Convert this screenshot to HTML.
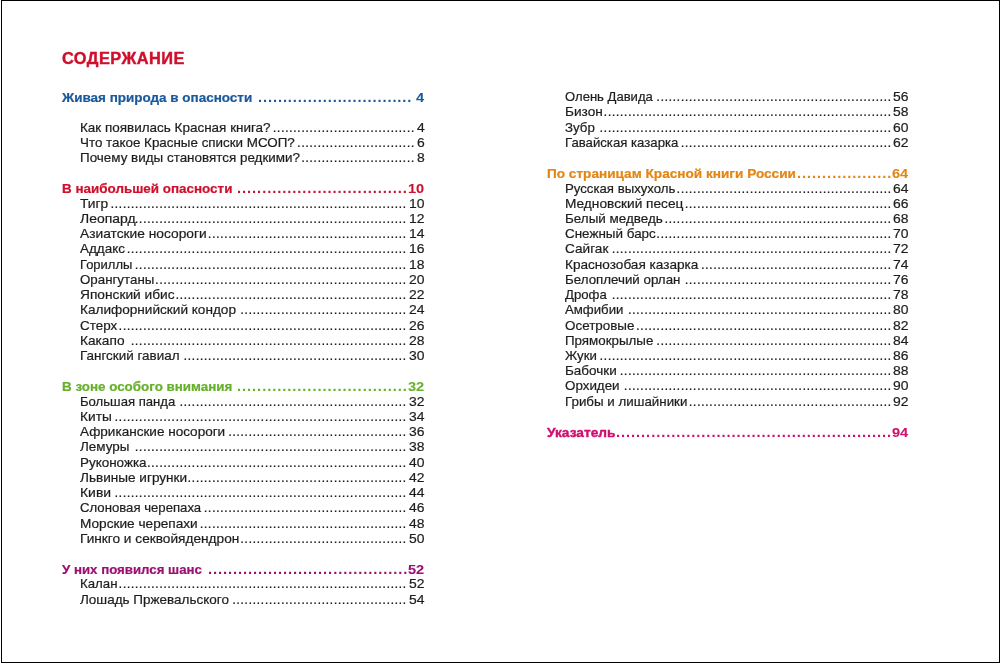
<!DOCTYPE html>
<html lang="ru">
<head>
<meta charset="utf-8">
<title>Содержание</title>
<style>
html,body{margin:0;padding:0;background:#fff;}
body{width:1000px;height:663px;position:relative;overflow:hidden;font-family:"Liberation Sans",Arial,Helvetica,sans-serif;color:#1d1d1b;}
.frame{position:absolute;left:1px;top:0;width:997px;height:661px;border:1px solid #000;}
.page{position:absolute;left:0;top:0;width:1000px;height:663px;will-change:transform;}
.t,.l,.n,.d{position:absolute;white-space:nowrap;line-height:1;margin:0;padding:0;transform-origin:0 0;}
h1.t{font-weight:bold;font-size:15.8px;letter-spacing:0.45px;color:#cf0f2b;-webkit-text-stroke:0.4px #cf0f2b;}
.i{font-weight:normal;font-size:12.4px;-webkit-text-stroke:0.2px #1d1d1b;}
.h{font-weight:bold;font-size:12.7px;-webkit-text-stroke-width:0.22px;}
.d.h{-webkit-text-stroke-width:0;}
.d.i{-webkit-text-stroke-width:0.18px;}
</style>
</head>
<body>
<div class="frame"></div>
<div class="page">
<h1 class="t" style="left:61.80px;top:51.00px;transform:scaleX(1.0358)">СОДЕРЖАНИЕ</h1>
<div class="l h" style="left:62.30px;top:92.00px;transform:scaleX(1.0612);color:#1a599c;-webkit-text-stroke-color:#1a599c">Живая природа в опасности</div>
<div class="n h" style="left:415.98px;top:91.00px;font-size:13.4px;-webkit-text-stroke-width:0.08px;transform:scaleX(1.0900);color:#1a599c;-webkit-text-stroke-color:#1a599c">4</div>
<div class="d h" style="left:257.65px;top:90.00px;font-size:14.0px;letter-spacing:0.833px;transform:scaleX(1.0540);color:#1a599c;-webkit-text-stroke-color:#1a599c">...............................</div>
<div class="l i" style="left:80.00px;top:122.00px;transform:scaleX(1.0873)">Как появилась Красная книга?</div>
<div class="n i" style="left:417.06px;top:121.00px;font-size:13.0px;transform:scaleX(1.0700)">4</div>
<div class="d i" style="left:78px;top:122.00px;letter-spacing:0.332px;transform:scaleX(1.0750);clip-path:inset(-2px 0.17px -2px 181.25px)">...................................................................................</div>
<div class="l i" style="left:80.00px;top:137.00px;transform:scaleX(1.0802)">Что такое Красные списки МСОП?</div>
<div class="n i" style="left:417.06px;top:136.00px;font-size:13.0px;transform:scaleX(1.0700)">6</div>
<div class="d i" style="left:78px;top:137.00px;letter-spacing:0.332px;transform:scaleX(1.0750);clip-path:inset(-2px 0.17px -2px 203.93px)">...................................................................................</div>
<div class="l i" style="left:80.00px;top:152.00px;transform:scaleX(1.0834)">Почему виды становятся редкими?</div>
<div class="n i" style="left:417.06px;top:151.00px;font-size:13.0px;transform:scaleX(1.0700)">8</div>
<div class="d i" style="left:78px;top:152.00px;letter-spacing:0.332px;transform:scaleX(1.0750);clip-path:inset(-2px 0.17px -2px 207.71px)">...................................................................................</div>
<div class="l h" style="left:62.30px;top:183.00px;transform:scaleX(1.0575);color:#cf0f2b;-webkit-text-stroke-color:#cf0f2b">В наибольшей опасности</div>
<div class="n h" style="left:407.85px;top:182.00px;font-size:13.4px;-webkit-text-stroke-width:0.08px;transform:scaleX(1.0900);color:#cf0f2b;-webkit-text-stroke-color:#cf0f2b">10</div>
<div class="d h" style="left:237.25px;top:181.00px;font-size:14.0px;letter-spacing:0.878px;transform:scaleX(1.0540);color:#cf0f2b;-webkit-text-stroke-color:#cf0f2b">..................................</div>
<div class="l i" style="left:80.00px;top:198.00px;transform:scaleX(1.1081)">Тигр</div>
<div class="n i" style="left:409.32px;top:197.00px;font-size:13.0px;transform:scaleX(1.0700)">10</div>
<div class="d i" style="left:78px;top:198.00px;letter-spacing:0.332px;transform:scaleX(1.0750);clip-path:inset(-2px 7.73px -2px 30.07px)">...................................................................................</div>
<div class="l i" style="left:80.00px;top:213.00px;transform:scaleX(1.1264)">Леопард</div>
<div class="n i" style="left:409.32px;top:212.00px;font-size:13.0px;transform:scaleX(1.0700)">12</div>
<div class="d i" style="left:78px;top:213.00px;letter-spacing:0.332px;transform:scaleX(1.0750);clip-path:inset(-2px 7.73px -2px 52.75px)">...................................................................................</div>
<div class="l i" style="left:80.00px;top:228.00px;transform:scaleX(1.1106)">Азиатские носороги</div>
<div class="n i" style="left:409.32px;top:227.00px;font-size:13.0px;transform:scaleX(1.0700)">14</div>
<div class="d i" style="left:78px;top:228.00px;letter-spacing:0.332px;transform:scaleX(1.0750);clip-path:inset(-2px 7.73px -2px 120.78px)">...................................................................................</div>
<div class="l i" style="left:80.00px;top:243.00px;transform:scaleX(1.0876)">Аддакс</div>
<div class="n i" style="left:409.32px;top:242.00px;font-size:13.0px;transform:scaleX(1.0700)">16</div>
<div class="d i" style="left:78px;top:243.00px;letter-spacing:0.332px;transform:scaleX(1.0750);clip-path:inset(-2px 7.73px -2px 45.19px)">...................................................................................</div>
<div class="l i" style="left:80.00px;top:259.00px;transform:scaleX(1.0470)">Гориллы</div>
<div class="n i" style="left:409.32px;top:258.00px;font-size:13.0px;transform:scaleX(1.0700)">18</div>
<div class="d i" style="left:78px;top:259.00px;letter-spacing:0.332px;transform:scaleX(1.0750);clip-path:inset(-2px 7.73px -2px 52.75px)">...................................................................................</div>
<div class="l i" style="left:80.00px;top:274.00px;transform:scaleX(1.0744)">Орангутаны</div>
<div class="n i" style="left:409.32px;top:273.00px;font-size:13.0px;transform:scaleX(1.0700)">20</div>
<div class="d i" style="left:78px;top:274.00px;letter-spacing:0.332px;transform:scaleX(1.0750);clip-path:inset(-2px 7.73px -2px 71.64px)">...................................................................................</div>
<div class="l i" style="left:80.00px;top:289.00px;transform:scaleX(1.1072)">Японский ибис</div>
<div class="n i" style="left:409.32px;top:288.00px;font-size:13.0px;transform:scaleX(1.0700)">22</div>
<div class="d i" style="left:78px;top:289.00px;letter-spacing:0.332px;transform:scaleX(1.0750);clip-path:inset(-2px 7.73px -2px 90.54px)">...................................................................................</div>
<div class="l i" style="left:80.00px;top:304.00px;transform:scaleX(1.0975)">Калифорнийский кондор</div>
<div class="n i" style="left:409.32px;top:303.00px;font-size:13.0px;transform:scaleX(1.0700)">24</div>
<div class="d i" style="left:78px;top:304.00px;letter-spacing:0.332px;transform:scaleX(1.0750);clip-path:inset(-2px 7.73px -2px 151.02px)">...................................................................................</div>
<div class="l i" style="left:80.00px;top:320.00px;transform:scaleX(1.0837)">Стерх</div>
<div class="n i" style="left:409.32px;top:319.00px;font-size:13.0px;transform:scaleX(1.0700)">26</div>
<div class="d i" style="left:78px;top:320.00px;letter-spacing:0.332px;transform:scaleX(1.0750);clip-path:inset(-2px 7.73px -2px 37.63px)">...................................................................................</div>
<div class="l i" style="left:80.00px;top:335.00px;transform:scaleX(1.1043)">Какапо</div>
<div class="n i" style="left:409.32px;top:334.00px;font-size:13.0px;transform:scaleX(1.0700)">28</div>
<div class="d i" style="left:78px;top:335.00px;letter-spacing:0.332px;transform:scaleX(1.0750);clip-path:inset(-2px 7.73px -2px 48.97px)">...................................................................................</div>
<div class="l i" style="left:80.00px;top:350.00px;transform:scaleX(1.0854)">Гангский гавиал</div>
<div class="n i" style="left:409.32px;top:349.00px;font-size:13.0px;transform:scaleX(1.0700)">30</div>
<div class="d i" style="left:78px;top:350.00px;letter-spacing:0.332px;transform:scaleX(1.0750);clip-path:inset(-2px 7.73px -2px 98.10px)">...................................................................................</div>
<div class="l h" style="left:62.30px;top:381.00px;transform:scaleX(1.0554);color:#66b02a;-webkit-text-stroke-color:#66b02a">В зоне особого внимания</div>
<div class="n h" style="left:407.85px;top:380.00px;font-size:13.4px;-webkit-text-stroke-width:0.08px;transform:scaleX(1.0900);color:#66b02a;-webkit-text-stroke-color:#66b02a">32</div>
<div class="d h" style="left:237.25px;top:379.00px;font-size:14.0px;letter-spacing:0.878px;transform:scaleX(1.0540);color:#66b02a;-webkit-text-stroke-color:#66b02a">..................................</div>
<div class="l i" style="left:80.00px;top:396.00px;transform:scaleX(1.0591)">Большая панда</div>
<div class="n i" style="left:409.32px;top:395.00px;font-size:13.0px;transform:scaleX(1.0700)">32</div>
<div class="d i" style="left:78px;top:396.00px;letter-spacing:0.332px;transform:scaleX(1.0750);clip-path:inset(-2px 7.73px -2px 94.32px)">...................................................................................</div>
<div class="l i" style="left:80.00px;top:411.00px;transform:scaleX(1.1067)">Киты</div>
<div class="n i" style="left:409.32px;top:410.00px;font-size:13.0px;transform:scaleX(1.0700)">34</div>
<div class="d i" style="left:78px;top:411.00px;letter-spacing:0.332px;transform:scaleX(1.0750);clip-path:inset(-2px 7.73px -2px 33.85px)">...................................................................................</div>
<div class="l i" style="left:80.00px;top:426.00px;transform:scaleX(1.0925)">Африканские носороги</div>
<div class="n i" style="left:409.32px;top:425.00px;font-size:13.0px;transform:scaleX(1.0700)">36</div>
<div class="d i" style="left:78px;top:426.00px;letter-spacing:0.332px;transform:scaleX(1.0750);clip-path:inset(-2px 7.73px -2px 139.68px)">...................................................................................</div>
<div class="l i" style="left:80.00px;top:441.00px;transform:scaleX(1.0846)">Лемуры</div>
<div class="n i" style="left:409.32px;top:440.00px;font-size:13.0px;transform:scaleX(1.0700)">38</div>
<div class="d i" style="left:78px;top:441.00px;letter-spacing:0.332px;transform:scaleX(1.0750);clip-path:inset(-2px 7.73px -2px 52.75px)">...................................................................................</div>
<div class="l i" style="left:80.00px;top:457.00px;transform:scaleX(1.0849)">Руконожка</div>
<div class="n i" style="left:409.32px;top:456.00px;font-size:13.0px;transform:scaleX(1.0700)">40</div>
<div class="d i" style="left:78px;top:457.00px;letter-spacing:0.332px;transform:scaleX(1.0750);clip-path:inset(-2px 7.73px -2px 64.09px)">...................................................................................</div>
<div class="l i" style="left:80.00px;top:472.00px;transform:scaleX(1.0957)">Львиные игрунки</div>
<div class="n i" style="left:409.32px;top:471.00px;font-size:13.0px;transform:scaleX(1.0700)">42</div>
<div class="d i" style="left:78px;top:472.00px;letter-spacing:0.332px;transform:scaleX(1.0750);clip-path:inset(-2px 7.73px -2px 101.88px)">...................................................................................</div>
<div class="l i" style="left:80.00px;top:487.00px;transform:scaleX(1.1245)">Киви</div>
<div class="n i" style="left:409.32px;top:486.00px;font-size:13.0px;transform:scaleX(1.0700)">44</div>
<div class="d i" style="left:78px;top:487.00px;letter-spacing:0.332px;transform:scaleX(1.0750);clip-path:inset(-2px 7.73px -2px 33.85px)">...................................................................................</div>
<div class="l i" style="left:80.00px;top:502.00px;transform:scaleX(1.0621)">Слоновая черепаха</div>
<div class="n i" style="left:409.32px;top:501.00px;font-size:13.0px;transform:scaleX(1.0700)">46</div>
<div class="d i" style="left:78px;top:502.00px;letter-spacing:0.332px;transform:scaleX(1.0750);clip-path:inset(-2px 7.73px -2px 117.00px)">...................................................................................</div>
<div class="l i" style="left:80.00px;top:518.00px;transform:scaleX(1.1003)">Морские черепахи</div>
<div class="n i" style="left:409.32px;top:517.00px;font-size:13.0px;transform:scaleX(1.0700)">48</div>
<div class="d i" style="left:78px;top:518.00px;letter-spacing:0.332px;transform:scaleX(1.0750);clip-path:inset(-2px 7.73px -2px 113.22px)">...................................................................................</div>
<div class="l i" style="left:80.00px;top:533.00px;transform:scaleX(1.1029)">Гинкго и секвойядендрон</div>
<div class="n i" style="left:409.32px;top:532.00px;font-size:13.0px;transform:scaleX(1.0700)">50</div>
<div class="d i" style="left:78px;top:533.00px;letter-spacing:0.332px;transform:scaleX(1.0750);clip-path:inset(-2px 7.73px -2px 151.02px)">...................................................................................</div>
<div class="l h" style="left:62.30px;top:564.00px;transform:scaleX(1.0445);color:#9e0f73;-webkit-text-stroke-color:#9e0f73">У них появился шанс</div>
<div class="n h" style="left:407.85px;top:563.00px;font-size:13.4px;-webkit-text-stroke-width:0.08px;transform:scaleX(1.0900);color:#9e0f73;-webkit-text-stroke-color:#9e0f73">52</div>
<div class="d h" style="left:207.55px;top:562.00px;font-size:14.0px;letter-spacing:0.859px;transform:scaleX(1.0540);color:#9e0f73;-webkit-text-stroke-color:#9e0f73">........................................</div>
<div class="l i" style="left:80.00px;top:578.00px;transform:scaleX(1.0690)">Калан</div>
<div class="n i" style="left:409.32px;top:577.00px;font-size:13.0px;transform:scaleX(1.0700)">52</div>
<div class="d i" style="left:78px;top:578.00px;letter-spacing:0.332px;transform:scaleX(1.0750);clip-path:inset(-2px 7.73px -2px 37.63px)">...................................................................................</div>
<div class="l i" style="left:80.00px;top:594.00px;transform:scaleX(1.0887)">Лошадь Пржевальского</div>
<div class="n i" style="left:409.32px;top:593.00px;font-size:13.0px;transform:scaleX(1.0700)">54</div>
<div class="d i" style="left:78px;top:594.00px;letter-spacing:0.332px;transform:scaleX(1.0750);clip-path:inset(-2px 7.73px -2px 143.46px)">...................................................................................</div>
<div class="l i" style="left:565.10px;top:91.00px;transform:scaleX(1.0543)">Олень Давида</div>
<div class="n i" style="left:893.02px;top:90.00px;font-size:13.0px;transform:scaleX(1.0700)">56</div>
<div class="d i" style="left:563px;top:91.00px;letter-spacing:0.332px;transform:scaleX(1.0750);clip-path:inset(-2px 7.73px -2px 86.76px)">...................................................................................</div>
<div class="l i" style="left:565.10px;top:106.00px;transform:scaleX(1.1006)">Бизон</div>
<div class="n i" style="left:893.02px;top:105.00px;font-size:13.0px;transform:scaleX(1.0700)">58</div>
<div class="d i" style="left:563px;top:106.00px;letter-spacing:0.332px;transform:scaleX(1.0750);clip-path:inset(-2px 7.73px -2px 37.63px)">...................................................................................</div>
<div class="l i" style="left:565.10px;top:122.00px;transform:scaleX(1.0715)">Зубр</div>
<div class="n i" style="left:893.02px;top:121.00px;font-size:13.0px;transform:scaleX(1.0700)">60</div>
<div class="d i" style="left:563px;top:122.00px;letter-spacing:0.332px;transform:scaleX(1.0750);clip-path:inset(-2px 7.73px -2px 33.85px)">...................................................................................</div>
<div class="l i" style="left:565.10px;top:137.00px;transform:scaleX(1.0639)">Гавайская казарка</div>
<div class="n i" style="left:893.02px;top:136.00px;font-size:13.0px;transform:scaleX(1.0700)">62</div>
<div class="d i" style="left:563px;top:137.00px;letter-spacing:0.332px;transform:scaleX(1.0750);clip-path:inset(-2px 7.73px -2px 109.44px)">...................................................................................</div>
<div class="l h" style="left:547.30px;top:168.00px;transform:scaleX(1.0726);color:#e38614;-webkit-text-stroke-color:#e38614">По страницам Красной книги России</div>
<div class="n h" style="left:892.15px;top:167.00px;font-size:13.4px;-webkit-text-stroke-width:0.08px;transform:scaleX(1.0900);color:#e38614;-webkit-text-stroke-color:#e38614">64</div>
<div class="d h" style="left:797.25px;top:166.00px;font-size:14.0px;letter-spacing:0.873px;transform:scaleX(1.0540);color:#e38614;-webkit-text-stroke-color:#e38614">...................</div>
<div class="l i" style="left:565.10px;top:183.00px;transform:scaleX(1.0647)">Русская выхухоль</div>
<div class="n i" style="left:893.02px;top:182.00px;font-size:13.0px;transform:scaleX(1.0700)">64</div>
<div class="d i" style="left:563px;top:183.00px;letter-spacing:0.332px;transform:scaleX(1.0750);clip-path:inset(-2px 7.73px -2px 105.66px)">...................................................................................</div>
<div class="l i" style="left:565.10px;top:198.00px;transform:scaleX(1.1048)">Медновский песец</div>
<div class="n i" style="left:893.02px;top:197.00px;font-size:13.0px;transform:scaleX(1.0700)">66</div>
<div class="d i" style="left:563px;top:198.00px;letter-spacing:0.332px;transform:scaleX(1.0750);clip-path:inset(-2px 7.73px -2px 113.22px)">...................................................................................</div>
<div class="l i" style="left:565.10px;top:213.00px;transform:scaleX(1.0838)">Белый медведь</div>
<div class="n i" style="left:893.02px;top:212.00px;font-size:13.0px;transform:scaleX(1.0700)">68</div>
<div class="d i" style="left:563px;top:213.00px;letter-spacing:0.332px;transform:scaleX(1.0750);clip-path:inset(-2px 7.73px -2px 94.32px)">...................................................................................</div>
<div class="l i" style="left:565.10px;top:228.00px;transform:scaleX(1.0844)">Снежный барс</div>
<div class="n i" style="left:893.02px;top:227.00px;font-size:13.0px;transform:scaleX(1.0700)">70</div>
<div class="d i" style="left:563px;top:228.00px;letter-spacing:0.332px;transform:scaleX(1.0750);clip-path:inset(-2px 7.73px -2px 86.76px)">...................................................................................</div>
<div class="l i" style="left:565.10px;top:243.00px;transform:scaleX(1.0996)">Сайгак</div>
<div class="n i" style="left:893.02px;top:242.00px;font-size:13.0px;transform:scaleX(1.0700)">72</div>
<div class="d i" style="left:563px;top:243.00px;letter-spacing:0.332px;transform:scaleX(1.0750);clip-path:inset(-2px 7.73px -2px 45.19px)">...................................................................................</div>
<div class="l i" style="left:565.10px;top:259.00px;transform:scaleX(1.0972)">Краснозобая казарка</div>
<div class="n i" style="left:893.02px;top:258.00px;font-size:13.0px;transform:scaleX(1.0700)">74</div>
<div class="d i" style="left:563px;top:259.00px;letter-spacing:0.332px;transform:scaleX(1.0750);clip-path:inset(-2px 7.73px -2px 128.34px)">...................................................................................</div>
<div class="l i" style="left:565.10px;top:274.00px;transform:scaleX(1.0749)">Белоплечий орлан</div>
<div class="n i" style="left:893.02px;top:273.00px;font-size:13.0px;transform:scaleX(1.0700)">76</div>
<div class="d i" style="left:563px;top:274.00px;letter-spacing:0.332px;transform:scaleX(1.0750);clip-path:inset(-2px 7.73px -2px 113.22px)">...................................................................................</div>
<div class="l i" style="left:565.10px;top:289.00px;transform:scaleX(1.0645)">Дрофа</div>
<div class="n i" style="left:893.02px;top:288.00px;font-size:13.0px;transform:scaleX(1.0700)">78</div>
<div class="d i" style="left:563px;top:289.00px;letter-spacing:0.332px;transform:scaleX(1.0750);clip-path:inset(-2px 7.73px -2px 45.19px)">...................................................................................</div>
<div class="l i" style="left:565.10px;top:304.00px;transform:scaleX(1.0648)">Амфибии</div>
<div class="n i" style="left:893.02px;top:303.00px;font-size:13.0px;transform:scaleX(1.0700)">80</div>
<div class="d i" style="left:563px;top:304.00px;letter-spacing:0.332px;transform:scaleX(1.0750);clip-path:inset(-2px 7.73px -2px 60.31px)">...................................................................................</div>
<div class="l i" style="left:565.10px;top:320.00px;transform:scaleX(1.0817)">Осетровые</div>
<div class="n i" style="left:893.02px;top:319.00px;font-size:13.0px;transform:scaleX(1.0700)">82</div>
<div class="d i" style="left:563px;top:320.00px;letter-spacing:0.332px;transform:scaleX(1.0750);clip-path:inset(-2px 7.73px -2px 67.87px)">...................................................................................</div>
<div class="l i" style="left:565.10px;top:335.00px;transform:scaleX(1.0776)">Прямокрылые</div>
<div class="n i" style="left:893.02px;top:334.00px;font-size:13.0px;transform:scaleX(1.0700)">84</div>
<div class="d i" style="left:563px;top:335.00px;letter-spacing:0.332px;transform:scaleX(1.0750);clip-path:inset(-2px 7.73px -2px 86.76px)">...................................................................................</div>
<div class="l i" style="left:565.10px;top:350.00px;transform:scaleX(1.0655)">Жуки</div>
<div class="n i" style="left:893.02px;top:349.00px;font-size:13.0px;transform:scaleX(1.0700)">86</div>
<div class="d i" style="left:563px;top:350.00px;letter-spacing:0.332px;transform:scaleX(1.0750);clip-path:inset(-2px 7.73px -2px 33.85px)">...................................................................................</div>
<div class="l i" style="left:565.10px;top:365.00px;transform:scaleX(1.0895)">Бабочки</div>
<div class="n i" style="left:893.02px;top:364.00px;font-size:13.0px;transform:scaleX(1.0700)">88</div>
<div class="d i" style="left:563px;top:365.00px;letter-spacing:0.332px;transform:scaleX(1.0750);clip-path:inset(-2px 7.73px -2px 52.75px)">...................................................................................</div>
<div class="l i" style="left:565.10px;top:380.00px;transform:scaleX(1.0799)">Орхидеи</div>
<div class="n i" style="left:893.02px;top:379.00px;font-size:13.0px;transform:scaleX(1.0700)">90</div>
<div class="d i" style="left:563px;top:380.00px;letter-spacing:0.332px;transform:scaleX(1.0750);clip-path:inset(-2px 7.73px -2px 56.53px)">...................................................................................</div>
<div class="l i" style="left:565.10px;top:396.00px;transform:scaleX(1.0769)">Грибы и лишайники</div>
<div class="n i" style="left:893.02px;top:395.00px;font-size:13.0px;transform:scaleX(1.0700)">92</div>
<div class="d i" style="left:563px;top:396.00px;letter-spacing:0.332px;transform:scaleX(1.0750);clip-path:inset(-2px 7.73px -2px 117.00px)">...................................................................................</div>
<div class="l h" style="left:547.30px;top:427.00px;transform:scaleX(1.0806);color:#cf0f6e;-webkit-text-stroke-color:#cf0f6e;-webkit-text-stroke-width:0.38px">Указатель</div>
<div class="n h" style="left:892.15px;top:426.00px;font-size:13.4px;-webkit-text-stroke-width:0.08px;transform:scaleX(1.0900);color:#cf0f6e;-webkit-text-stroke-color:#cf0f6e">94</div>
<div class="d h" style="left:616.45px;top:425.00px;font-size:14.0px;letter-spacing:0.873px;transform:scaleX(1.0540);color:#cf0f6e;-webkit-text-stroke-color:#cf0f6e">.......................................................</div>
</div>
</body>
</html>
